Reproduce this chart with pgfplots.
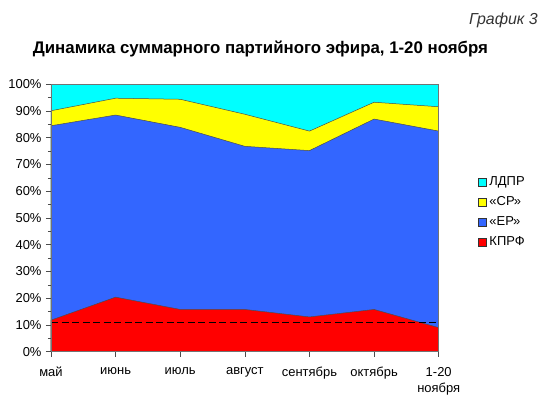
\documentclass[border=0pt]{standalone}
\usepackage{pgfplots}
\pgfplotsset{compat=1.18}
\usepackage{fontspec}
\setmainfont{Liberation Sans}
\definecolor{cLDPR}{RGB}{0,255,255}
\definecolor{cSR}{RGB}{255,255,0}
\definecolor{cER}{RGB}{51,102,255}
\definecolor{cKPRF}{RGB}{255,0,0}
\begin{document}
\begin{tikzpicture}
\begin{axis}[
  anchor=origin, at={(0,0)},
  scale only axis, width=387.7bp, height=267.4bp,
  xmin=0, xmax=6, ymin=0, ymax=100,
  xtick={0,...,6},
  xticklabels={май,июнь,июль,август,сентябрь,октябрь,{1-20\\ноября}},
  ytick={0,10,...,100}, minor ytick={5,15,...,95},
  yticklabel={\pgfmathprintnumber{\tick}\%},
  /pgf/number format/assume math mode=true,
  tick label style={font=\fontsize{13}{16.5}\selectfont},
  xticklabel style={align=center, yshift=-7bp},
  yticklabel style={xshift=-1bp},
  tick align=outside, tick pos=left,
  major tick length=5bp, minor tick length=3bp,
  tick style={black!70, line width=0.6bp},
  axis line style={black!55, line width=0.7bp},
  axis on top,
  legend cell align=left,
  legend image code/.code={\draw[#1,draw=black!80,line width=0.4bp] (0bp,-4bp) rectangle (8bp,4bp);},
  legend style={draw=none, fill=none, at={(1.101,0.658)}, anchor=north west,
    font=\fontsize{13}{16}\selectfont, inner sep=0pt, row sep=8bp, column sep=3bp,
    nodes={inner sep=0pt, text height=10bp, text depth=2bp}},
]
\addplot[fill=cLDPR, draw=black!70, line width=0.5bp] coordinates {(0,100) (1,100) (2,100) (3,100) (4,100) (5,100) (6,100)} \closedcycle;
\addlegendentry{ЛДПР}
\addplot[fill=cSR, draw=black!70, line width=0.5bp] coordinates {(0,90.1) (1,94.8) (2,94.4) (3,88.8) (4,82.5) (5,93.3) (6,91.6)} \closedcycle;
\addlegendentry{«СР»}
\addplot[fill=cER, draw=black!70, line width=0.5bp] coordinates {(0,84.5) (1,88.5) (2,83.9) (3,76.8) (4,75.2) (5,87.0) (6,82.5)} \closedcycle;
\addlegendentry{«ЕР»}
\addplot[fill=cKPRF, draw=black!70, line width=0.5bp] coordinates {(0,11.8) (1,20.4) (2,15.8) (3,15.8) (4,13.0) (5,15.8) (6,9.0)} \closedcycle;
\addlegendentry{КПРФ}
\addplot[black, line width=1.5bp, dash pattern=on 7bp off 3.5bp, forget plot] coordinates {(0,11) (6,11)};
\end{axis}
\begin{scope}[x=1bp,y=1bp,shift={(-51bp,-50.3bp)}]
\path (0,0) rectangle (550,402);
\node[anchor=base east, inner sep=0pt, font=\itshape\fontsize{16}{18}\selectfont, text=black!80] at (538,378) {График 3};
\node[anchor=base west, inner sep=0pt, font=\bfseries\fontsize{16.9}{20}\selectfont] at (32.7,348.7) {Динамика суммарного партийного эфира, 1-20 ноября};
\end{scope}
\end{tikzpicture}
\end{document}
